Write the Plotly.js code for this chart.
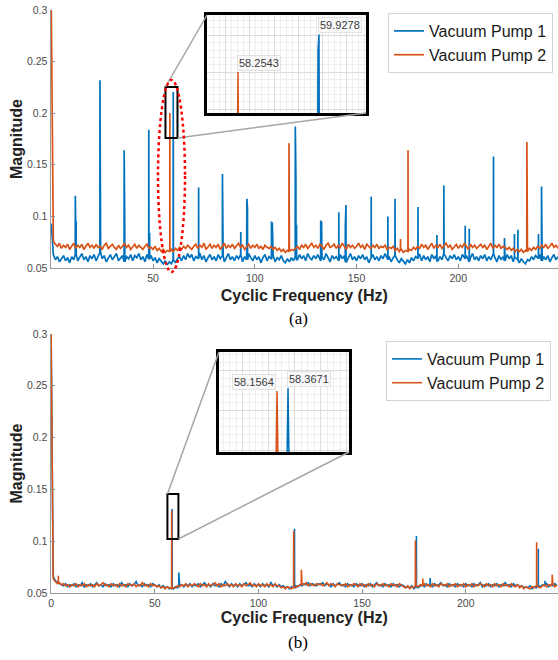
<!DOCTYPE html>
<html>
<head>
<meta charset="utf-8">
<script src="https://cdn.plot.ly/plotly-3.0.1.min.js"></script>
<style>html,body{margin:0;padding:0;background:#fff;}#chart{width:558px;height:660px;}</style>
</head>
<body>
<div id="chart"></div>
<script>
// ---------- DATA ----------
const seriesNames = ["Vacuum Pump 1", "Vacuum Pump 2"];
const floorStepHz = 1; // noise-floor samples are 1 Hz apart, starting at 0 Hz

// (a) noise floor, Vacuum Pump 1
const floorA1 = [
0.093,0.063,0.058,0.061,0.056,0.059,0.062,0.057,0.060,0.055,
0.061,0.058,0.063,0.057,0.060,0.064,0.058,0.061,0.056,0.062,
0.059,0.063,0.057,0.061,0.065,0.059,0.062,0.056,0.060,0.063,
0.058,0.061,0.064,0.057,0.060,0.062,0.056,0.061,0.059,0.063,
0.057,0.062,0.060,0.064,0.058,0.061,0.056,0.063,0.059,0.062,
0.057,0.060,0.055,0.059,0.056,0.054,0.057,0.053,0.056,0.054,
0.058,0.055,0.059,0.061,0.057,0.062,0.058,0.064,0.060,0.063,
0.057,0.061,0.059,0.064,0.058,0.062,0.056,0.060,0.063,0.058,
0.061,0.057,0.063,0.059,0.062,0.056,0.060,0.064,0.058,0.061,
0.057,0.062,0.059,0.063,0.056,0.061,0.058,0.064,0.060,0.057,
0.062,0.058,0.061,0.055,0.060,0.063,0.057,0.061,0.059,0.062,
0.056,0.060,0.058,0.062,0.057,0.055,0.059,0.056,0.060,0.057,
0.061,0.058,0.063,0.059,0.062,0.057,0.064,0.060,0.058,0.062,
0.059,0.063,0.057,0.061,0.058,0.064,0.060,0.056,0.062,0.059,
0.061,0.057,0.063,0.059,0.062,0.056,0.060,0.064,0.058,0.061,
0.057,0.062,0.059,0.063,0.058,0.061,0.055,0.060,0.063,0.058,
0.061,0.057,0.062,0.059,0.064,0.058,0.061,0.056,0.060,0.062,
0.058,0.055,0.059,0.056,0.054,0.058,0.055,0.060,0.057,0.061,
0.059,0.063,0.057,0.062,0.058,0.061,0.056,0.063,0.059,0.062,
0.057,0.061,0.058,0.064,0.060,0.057,0.062,0.059,0.063,0.058,
0.061,0.057,0.063,0.059,0.062,0.056,0.060,0.064,0.058,0.061,
0.057,0.062,0.059,0.063,0.057,0.061,0.058,0.064,0.060,0.056,
0.062,0.058,0.061,0.057,0.063,0.059,0.062,0.056,0.060,0.058,
0.055,0.059,0.056,0.054,0.058,0.057,0.061,0.058,0.062,0.059,
0.063,0.057,0.061,0.058,0.062,0.056,0.060,0.063,0.058,0.061];

// (a) noise floor, Vacuum Pump 2
const floorA2 = [
0.300,0.076,0.073,0.071,0.074,0.069,0.072,0.070,0.073,0.068,
0.071,0.074,0.069,0.072,0.070,0.073,0.068,0.071,0.074,0.070,
0.072,0.069,0.073,0.070,0.071,0.068,0.072,0.074,0.069,0.071,
0.073,0.070,0.068,0.072,0.069,0.071,0.074,0.070,0.072,0.068,
0.071,0.073,0.069,0.072,0.070,0.068,0.071,0.073,0.069,0.070,
0.068,0.071,0.067,0.069,0.066,0.068,0.065,0.067,0.066,0.068,
0.066,0.069,0.067,0.070,0.068,0.071,0.069,0.072,0.070,0.068,
0.071,0.073,0.069,0.072,0.070,0.074,0.068,0.071,0.073,0.069,
0.072,0.070,0.073,0.068,0.071,0.074,0.069,0.072,0.070,0.073,
0.069,0.071,0.074,0.070,0.072,0.068,0.071,0.073,0.069,0.072,
0.070,0.073,0.069,0.071,0.068,0.072,0.070,0.069,0.071,0.068,
0.070,0.067,0.069,0.066,0.068,0.065,0.067,0.066,0.068,0.067,
0.069,0.071,0.068,0.072,0.070,0.073,0.069,0.071,0.074,0.070,
0.072,0.069,0.073,0.071,0.068,0.072,0.074,0.070,0.071,0.073,
0.069,0.072,0.070,0.074,0.071,0.068,0.073,0.070,0.072,0.069,
0.071,0.074,0.070,0.072,0.068,0.073,0.071,0.069,0.072,0.070,
0.073,0.069,0.071,0.070,0.072,0.068,0.070,0.069,0.071,0.067,
0.069,0.066,0.068,0.065,0.067,0.066,0.068,0.067,0.070,0.068,
0.071,0.069,0.073,0.070,0.072,0.068,0.071,0.074,0.069,0.072,
0.070,0.073,0.069,0.071,0.074,0.070,0.072,0.068,0.071,0.073,
0.069,0.072,0.070,0.074,0.071,0.068,0.073,0.070,0.072,0.069,
0.071,0.073,0.070,0.072,0.068,0.071,0.074,0.069,0.072,0.070,
0.073,0.069,0.071,0.070,0.068,0.070,0.067,0.069,0.066,0.068,
0.066,0.068,0.065,0.067,0.066,0.069,0.067,0.070,0.068,0.071,
0.069,0.072,0.070,0.073,0.069,0.071,0.074,0.070,0.072,0.069];

// (a) spectral lines
const spikeHzA1  = [11.8,12.2,23.9,24.2,35.8,36.1,47.9,48.3,59.9078,59.9278,72.4,72.7,84.1,84.4,93.1,96.1,96.4,108.2,108.6,119.9,120.2,120.5,132.4,132.8,141.3,144.5,144.8,157.2,165.4,168.9,180.2,180.5,189.5,192.9,203.4,205.4,217.3,222.7,227.6,229.3,239.4,240.9,241.2];
const spikeMagA1 = [0.120,0.095,0.232,0.082,0.164,0.088,0.184,0.084,0.212,0.2205,0.128,0.098,0.141,0.090,0.085,0.117,0.108,0.095,0.094,0.187,0.137,0.092,0.096,0.095,0.104,0.092,0.111,0.119,0.100,0.117,0.109,0.097,0.082,0.130,0.091,0.088,0.158,0.079,0.083,0.087,0.083,0.129,0.128];
const spikeHzA2  = [58.2543,116.8,171.6,175.3,233.7];
const spikeMagA2 = [0.2002,0.171,0.078,0.164,0.172];

// (b) noise floor, Vacuum Pump 1
const floorB1 = [
0.300,0.066,0.062,0.060,0.059,0.058,0.057,0.059,0.056,0.058,
0.057,0.059,0.056,0.058,0.057,0.060,0.056,0.058,0.057,0.059,
0.056,0.058,0.060,0.057,0.058,0.056,0.059,0.057,0.058,0.056,
0.059,0.057,0.058,0.056,0.060,0.057,0.058,0.056,0.059,0.057,
0.058,0.061,0.057,0.058,0.056,0.059,0.057,0.058,0.056,0.059,
0.057,0.056,0.058,0.055,0.057,0.055,0.056,0.054,0.055,0.054,
0.056,0.055,0.057,0.058,0.056,0.058,0.057,0.059,0.056,0.058,
0.057,0.059,0.056,0.058,0.060,0.057,0.058,0.056,0.059,0.057,
0.058,0.056,0.059,0.057,0.061,0.058,0.056,0.059,0.057,0.058,
0.056,0.059,0.057,0.058,0.060,0.057,0.058,0.056,0.059,0.057,
0.058,0.056,0.059,0.057,0.058,0.056,0.060,0.057,0.058,0.056,
0.058,0.056,0.057,0.055,0.056,0.054,0.056,0.055,0.057,0.056,
0.058,0.057,0.059,0.058,0.060,0.057,0.059,0.058,0.057,0.059,
0.058,0.060,0.057,0.059,0.058,0.056,0.059,0.057,0.058,0.060,
0.057,0.058,0.056,0.059,0.057,0.058,0.056,0.059,0.058,0.057,
0.059,0.056,0.058,0.057,0.059,0.056,0.058,0.060,0.057,0.058,
0.056,0.059,0.057,0.058,0.056,0.059,0.057,0.058,0.056,0.058,
0.057,0.055,0.056,0.055,0.057,0.054,0.056,0.055,0.057,0.058,
0.056,0.059,0.057,0.058,0.056,0.059,0.057,0.058,0.060,0.057,
0.058,0.056,0.059,0.057,0.058,0.056,0.059,0.057,0.058,0.056,
0.059,0.057,0.058,0.056,0.059,0.057,0.058,0.060,0.056,0.058,
0.057,0.059,0.056,0.058,0.057,0.059,0.056,0.058,0.057,0.060,
0.057,0.058,0.056,0.059,0.057,0.058,0.056,0.057,0.055,0.056,
0.055,0.057,0.054,0.056,0.055,0.057,0.056,0.058,0.057,0.059,
0.056,0.058,0.057,0.059,0.057];

// (b) noise floor, Vacuum Pump 2
const floorB2 = [
0.300,0.064,0.061,0.059,0.060,0.058,0.059,0.057,0.058,0.056,
0.058,0.057,0.059,0.056,0.058,0.057,0.059,0.056,0.058,0.057,
0.058,0.056,0.059,0.057,0.058,0.060,0.057,0.058,0.056,0.059,
0.057,0.058,0.056,0.059,0.057,0.058,0.056,0.059,0.058,0.057,
0.059,0.056,0.058,0.057,0.060,0.057,0.058,0.056,0.059,0.057,
0.058,0.056,0.057,0.055,0.056,0.054,0.056,0.055,0.054,0.055,
0.055,0.057,0.056,0.058,0.057,0.059,0.056,0.058,0.057,0.059,
0.058,0.056,0.059,0.057,0.058,0.056,0.059,0.057,0.058,0.060,
0.057,0.059,0.056,0.058,0.057,0.059,0.057,0.058,0.056,0.059,
0.057,0.058,0.056,0.059,0.057,0.058,0.060,0.057,0.058,0.056,
0.059,0.057,0.058,0.056,0.059,0.057,0.058,0.056,0.059,0.057,
0.057,0.055,0.056,0.054,0.056,0.055,0.054,0.056,0.055,0.057,
0.057,0.059,0.058,0.060,0.057,0.059,0.058,0.057,0.059,0.058,
0.059,0.057,0.058,0.060,0.057,0.059,0.058,0.056,0.059,0.058,
0.058,0.057,0.059,0.056,0.058,0.057,0.059,0.058,0.056,0.059,
0.057,0.058,0.056,0.059,0.057,0.058,0.056,0.059,0.058,0.057,
0.059,0.057,0.058,0.056,0.059,0.057,0.058,0.056,0.059,0.057,
0.056,0.055,0.057,0.054,0.056,0.055,0.057,0.056,0.058,0.057,
0.059,0.057,0.058,0.056,0.059,0.057,0.058,0.056,0.059,0.058,
0.057,0.059,0.056,0.058,0.057,0.059,0.056,0.058,0.057,0.059,
0.056,0.058,0.057,0.059,0.056,0.058,0.057,0.059,0.058,0.056,
0.059,0.057,0.058,0.056,0.059,0.057,0.058,0.056,0.059,0.057,
0.058,0.056,0.059,0.057,0.056,0.058,0.055,0.057,0.054,0.056,
0.055,0.054,0.056,0.055,0.057,0.056,0.055,0.057,0.058,0.056,
0.058,0.057,0.059,0.056,0.058];

// (b) spectral lines
const spikeHzB1  = [58.3671,61.6,117.4,176.2,182.8,235.0,238.2];
const spikeMagB1 = [0.131,0.0698,0.112,0.105,0.0645,0.0926,0.0617];
const spikeHzB2  = [3.5,58.1564,117.0,120.7,175.7,179.3,234.2,241.7];
const spikeMagB2 = [0.0666,0.1295,0.1098,0.0724,0.1007,0.064,0.099,0.0675];

// labelled peaks shown in the zoom insets
const insetLabelsA = [{hz: 58.2543, mag: 0.2002, side: "left"}, {hz: 59.9278, mag: 0.2205, side: "left"}];
const insetLabelsB = [{hz: 58.1564, mag: 0.1295, side: "right"}, {hz: 58.3671, mag: 0.131, side: "left"}];

// ---------- BUILD ----------
const SHOULDER = 0.04;
function buildSeries(floorVals, spikeHz, spikeMag) {
  const pts = floorVals.map((v, i) => [i * floorStepHz, v]);
  spikeHz.forEach((f, k) => {
    const base = floorVals[Math.round(f / floorStepHz)];
    pts.push([f - SHOULDER, base], [f, spikeMag[k]], [f + SHOULDER, base]);
  });
  pts.sort((a, b) => a[0] - b[0]);
  return {x: pts.map(p => p[0]), y: pts.map(p => p[1])};
}
const sA1 = buildSeries(floorA1, spikeHzA1, spikeMagA1);
const sA2 = buildSeries(floorA2, spikeHzA2, spikeMagA2);
const sB1 = buildSeries(floorB1, spikeHzB1, spikeMagB1);
const sB2 = buildSeries(floorB2, spikeHzB2, spikeMagB2);

const C1 = "#0072BD", C2 = "#D95319";
const W = 558, H = 660;
const FONT = "Liberation Sans, Arial, Helvetica, sans-serif";

function tr(s, name, color, xa, ya, legend, show, width) {
  return {type: "scatter", mode: "lines", x: s.x, y: s.y, name: name,
    line: {color: color, width: width}, xaxis: xa, yaxis: ya,
    legend: legend, showlegend: show, hoverinfo: "skip"};
}
const data = [
  tr(sA1, seriesNames[0], C1, "x", "y", "legend", true, 1.7),
  tr(sA2, seriesNames[1], C2, "x", "y", "legend", true, 1.7),
  tr(sA1, seriesNames[0], C1, "x3", "y3", "legend", false, 1.5),
  tr(sA2, seriesNames[1], C2, "x3", "y3", "legend", false, 1.5),
  tr(sB1, seriesNames[0], C1, "x2", "y2", "legend2", true, 1.6),
  tr(sB2, seriesNames[1], C2, "x2", "y2", "legend2", true, 1.6),
  tr(sB1, seriesNames[0], C1, "x4", "y4", "legend2", false, 1.5),
  tr(sB2, seriesNames[1], C2, "x4", "y4", "legend2", false, 1.5)
];

function mainX(domainPx, range, tickvals, anchor, standoff) {
  return {domain: domainPx.map(v => v / W), range: range, anchor: anchor,
    tickvals: tickvals, ticktext: tickvals.map(String),
    ticks: "inside", ticklen: 4, tickcolor: "#8c8c8c",
    showline: true, linecolor: "#9a9a9a", linewidth: 1, mirror: false,
    showgrid: false, zeroline: false,
    tickfont: {family: FONT, size: 10.5, color: "#4a4a4a"},
    title: {text: "Cyclic Frequency (Hz)", font: {family: FONT, size: 16, color: "#222", weight: "bold"}, standoff: standoff}};
}
function mainY(domainPxTopBottom, anchor) {
  return {domain: [1 - domainPxTopBottom[1] / H, 1 - domainPxTopBottom[0] / H],
    range: [0.05, 0.3], anchor: anchor,
    tickvals: [0.05, 0.1, 0.15, 0.2, 0.25, 0.3], ticktext: ["0.05", "0.1", "0.15", "0.2", "0.25", "0.3"],
    ticks: "inside", ticklen: 4, tickcolor: "#8c8c8c",
    showline: true, linecolor: "#9a9a9a", linewidth: 1,
    showgrid: false, zeroline: false,
    tickfont: {family: FONT, size: 10.5, color: "#4a4a4a"},
    title: {text: "Magnitude", font: {family: FONT, size: 16, color: "#222", weight: "bold"}, standoff: 0}};
}
function insetAx(domain, range, dtick, minorDtick, anchor) {
  return {domain: domain, range: range, anchor: anchor,
    showticklabels: false, ticks: "", zeroline: false,
    showgrid: true, gridcolor: "#dcdcdc", gridwidth: 1, dtick: dtick,
    minor: {showgrid: true, gridcolor: "#eeeeee", gridwidth: 1, dtick: minorDtick},
    showline: true, linecolor: "#000", linewidth: 3, mirror: true};
}

const layout = {
  width: W, height: H,
  margin: {l: 0, r: 0, t: 0, b: 0},
  paper_bgcolor: "#fff", plot_bgcolor: "#fff",
  font: {family: FONT},
  showlegend: true,
  xaxis: mainX([50.5, 558], [-0.4, 249], [50, 100, 150, 200], "y", 7),
  yaxis: mainY([10, 268], "x"),
  xaxis2: mainX([50.5, 558], [-0.3, 244.5], [0, 50, 100, 150, 200], "y2", 4),
  yaxis2: mainY([334, 593], "x2"),
  xaxis3: insetAx([207 / W, 366 / W], [57.614, 60.899], 0.5, 0.125, "y3"),
  yaxis3: insetAx([1 - 113 / H, 1 - 15 / H], [0.178, 0.231], 0.02, 0.004, "x3"),
  xaxis4: insetAx([219 / W, 349 / W], [57.04, 59.54], 0.5, 0.125, "y4"),
  yaxis4: insetAx([1 - 452 / H, 1 - 352 / H], [0.099, 0.149], 0.02, 0.004, "x4"),
  legend: {x: 553 / W, xanchor: "right", y: 1 - 13 / H, yanchor: "top",
    bgcolor: "#fff", bordercolor: "#d4d4d4", borderwidth: 1,
    font: {family: FONT, size: 16, color: "#1a1a1a"}, tracegroupgap: 0},
  legend2: {x: 551 / W, xanchor: "right", y: 1 - 341 / H, yanchor: "top",
    bgcolor: "#fff", bordercolor: "#d4d4d4", borderwidth: 1,
    font: {family: FONT, size: 16, color: "#1a1a1a"}, tracegroupgap: 0},
  shapes: [], annotations: []
};

// zoom rectangles (data coordinates of the main plots)
const zoomA = {x0: 56.1, x1: 62.0, y0: 0.176, y1: 0.2254};
const zoomB = {x0: 56.1, x1: 61.4, y0: 0.1021, y1: 0.1456};

function toPaperX(ax, v) { const a = layout[ax]; return a.domain[0] + (v - a.range[0]) / (a.range[1] - a.range[0]) * (a.domain[1] - a.domain[0]); }
function toPaperY(ax, v) { const a = layout[ax]; return a.domain[0] + (v - a.range[0]) / (a.range[1] - a.range[0]) * (a.domain[1] - a.domain[0]); }

function addZoom(z, xa, ya, ixa, iya, xref, yref) {
  layout.shapes.push({type: "rect", xref: xref, yref: yref, x0: z.x0, x1: z.x1, y0: z.y0, y1: z.y1,
    line: {color: "#000", width: 2}, layer: "above"});
  const ix = layout[ixa].domain, iy = layout[iya].domain;
  layout.shapes.push({type: "line", xref: "paper", yref: "paper",
    x0: toPaperX(xa, z.x0), y0: toPaperY(ya, z.y1), x1: ix[0], y1: iy[1],
    line: {color: "#a6a6a6", width: 1.5}, layer: "above"});
  layout.shapes.push({type: "line", xref: "paper", yref: "paper",
    x0: toPaperX(xa, z.x1), y0: toPaperY(ya, z.y0), x1: ix[1], y1: iy[0],
    line: {color: "#a6a6a6", width: 1.5}, layer: "above"});
}
addZoom(zoomA, "xaxis", "yaxis", "xaxis3", "yaxis3", "x", "y");
addZoom(zoomB, "xaxis2", "yaxis2", "xaxis4", "yaxis4", "x2", "y2");

// red dotted ellipse around the 58-60 Hz lines in (a)
layout.shapes.push({type: "circle", xref: "paper", yref: "paper",
  x0: 158 / W, x1: 185 / W, y0: 1 - 272 / H, y1: 1 - 80 / H,
  line: {color: "#ff0000", width: 2.5, dash: "dot"}, layer: "above"});

function addLabels(list, xref, yref) {
  list.forEach(l => layout.annotations.push({
    xref: xref, yref: yref, x: l.hz, y: l.mag, text: l.hz.toFixed(4),
    showarrow: false, xanchor: l.side === "left" ? "left" : "right", yanchor: "bottom",
    xshift: -1, yshift: 1,
    bgcolor: "#f8f8f8", bordercolor: "#e2e2e2", borderwidth: 1, borderpad: 1,
    font: {family: FONT, size: 11, color: "#3a3a3a"}}));
}
addLabels(insetLabelsA, "x3", "y3");
addLabels(insetLabelsB, "x4", "y4");

// panel captions
[["(a)", 318], ["(b)", 642]].forEach(c => layout.annotations.push({
  xref: "paper", yref: "paper", x: 298 / W, y: 1 - c[1] / H, text: c[0], showarrow: false,
  xanchor: "center", yanchor: "middle",
  font: {family: "Liberation Serif, Times New Roman, serif", size: 17, color: "#000"}}));

Plotly.newPlot("chart", data, layout, {staticPlot: true, displayModeBar: false});
</script>
</body>
</html>
